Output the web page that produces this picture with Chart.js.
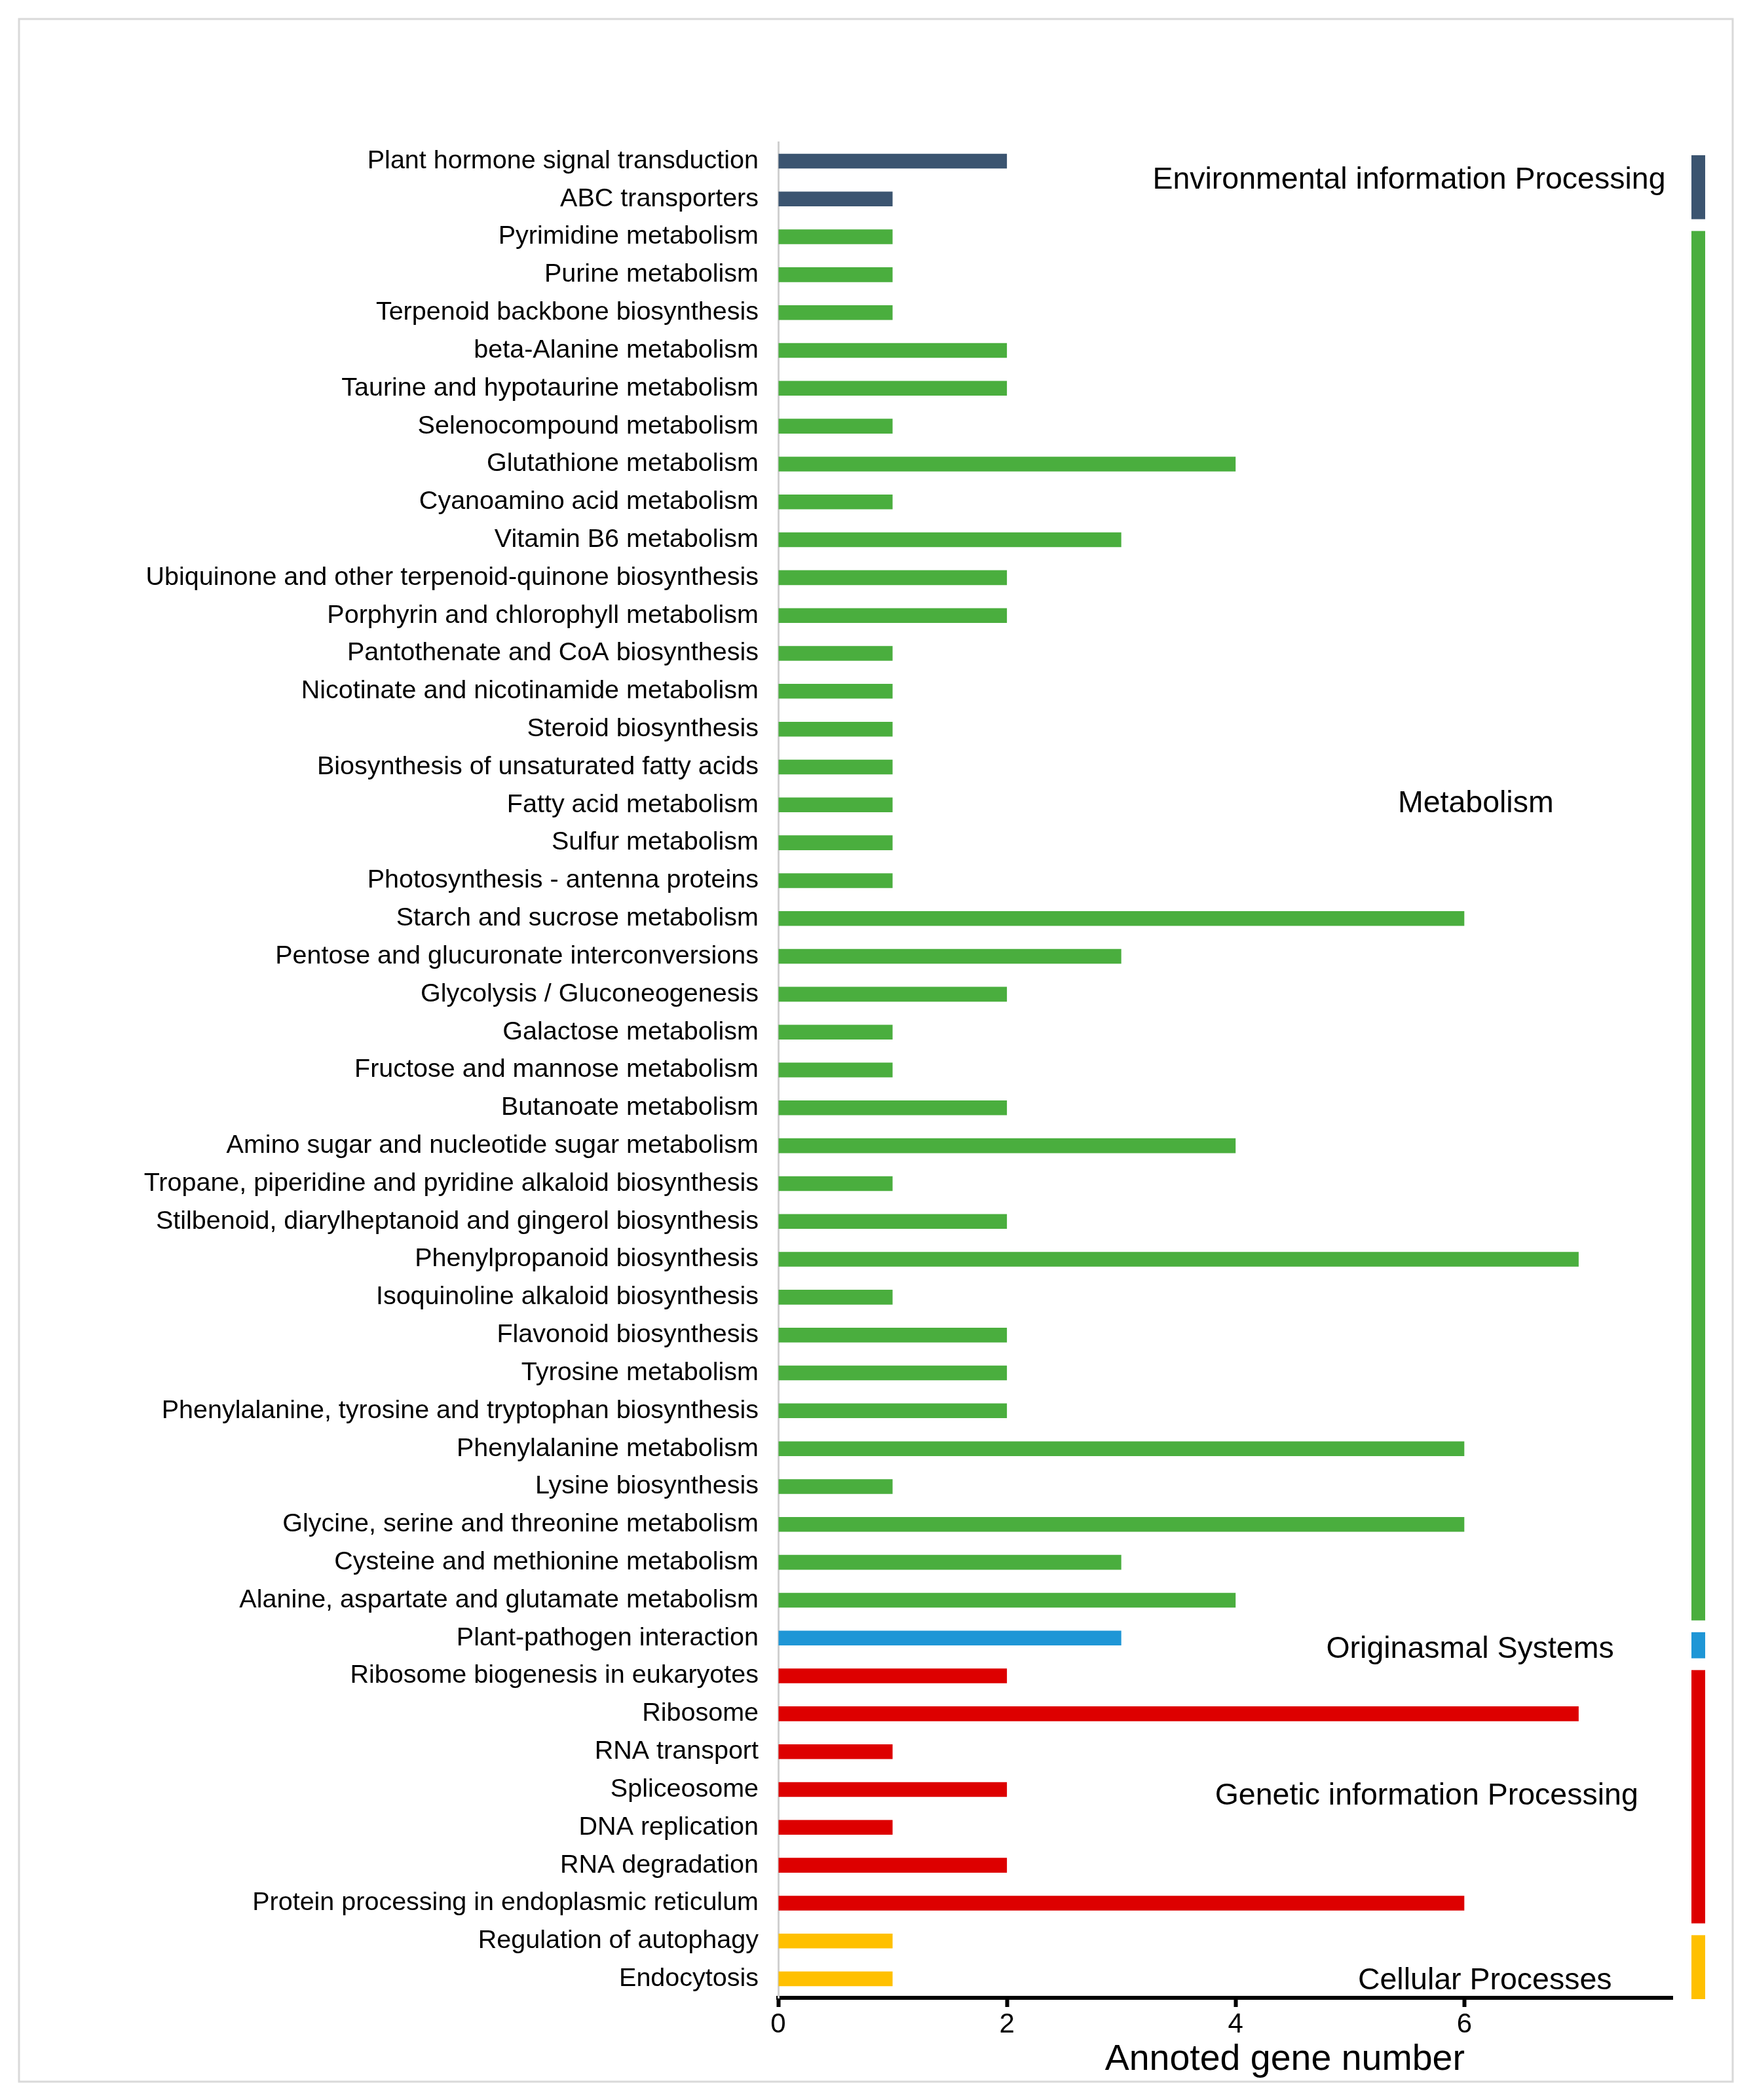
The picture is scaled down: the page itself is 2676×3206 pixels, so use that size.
<!DOCTYPE html>
<html>
<head>
<meta charset="utf-8">
<script src="https://cdn.jsdelivr.net/npm/chart.js@4.4.1/dist/chart.umd.min.js"></script>
<style>
  html, body { margin: 0; padding: 0; background: #fff; }
  #wrap { width: 2676px; height: 3206px; position: relative; }
</style>
</head>
<body>
<div id="wrap"><canvas id="chart-bar"></canvas></div>
<script>
// pathway names, top to bottom
var pathways = [
  'Plant hormone signal transduction', 'ABC transporters', 'Pyrimidine metabolism', 'Purine metabolism',
  'Terpenoid backbone biosynthesis', 'beta-Alanine metabolism', 'Taurine and hypotaurine metabolism',
  'Selenocompound metabolism', 'Glutathione metabolism', 'Cyanoamino acid metabolism', 'Vitamin B6 metabolism',
  'Ubiquinone and other terpenoid-quinone biosynthesis', 'Porphyrin and chlorophyll metabolism',
  'Pantothenate and CoA biosynthesis', 'Nicotinate and nicotinamide metabolism', 'Steroid biosynthesis',
  'Biosynthesis of unsaturated fatty acids', 'Fatty acid metabolism', 'Sulfur metabolism',
  'Photosynthesis - antenna proteins', 'Starch and sucrose metabolism', 'Pentose and glucuronate interconversions',
  'Glycolysis / Gluconeogenesis', 'Galactose metabolism', 'Fructose and mannose metabolism', 'Butanoate metabolism',
  'Amino sugar and nucleotide sugar metabolism', 'Tropane, piperidine and pyridine alkaloid biosynthesis',
  'Stilbenoid, diarylheptanoid and gingerol biosynthesis', 'Phenylpropanoid biosynthesis',
  'Isoquinoline alkaloid biosynthesis', 'Flavonoid biosynthesis', 'Tyrosine metabolism',
  'Phenylalanine, tyrosine and tryptophan biosynthesis', 'Phenylalanine metabolism', 'Lysine biosynthesis',
  'Glycine, serine and threonine metabolism', 'Cysteine and methionine metabolism',
  'Alanine, aspartate and glutamate metabolism', 'Plant-pathogen interaction', 'Ribosome biogenesis in eukaryotes',
  'Ribosome', 'RNA transport', 'Spliceosome', 'DNA replication', 'RNA degradation',
  'Protein processing in endoplasmic reticulum', 'Regulation of autophagy', 'Endocytosis'
];
var geneCounts = [
  2, 1, 1, 1, 1, 2, 2, 1, 4, 1, 3,
  2, 2, 1, 1, 1, 1, 1, 1, 1, 6, 3,
  2, 1, 1, 2, 4, 1, 2, 7, 1, 2, 2,
  2, 6, 1, 6, 3, 4, 3, 2, 7, 1, 2,
  1, 2, 6, 1, 1
];
var xTicks = [0, 2, 4, 6];

// KEGG classes: first and last pathway index of each
var groupNames = ['Environmental information Processing', 'Metabolism', 'Originasmal Systems',
                  'Genetic information Processing', 'Cellular Processes'];
var groupStart = [0, 2, 39, 40, 47];
var groupEnd   = [1, 38, 39, 46, 48];
var groupColors = ['#3b5470', '#4aae3e', '#1e96d6', '#dd0000', '#ffc000'];
// where each class name sits (x in gene number, y in pathway index)
var groupLabelX = [7.76, 6.1, 6.05, 5.67, 6.18];
var groupLabelY = [0.5, 16.98, 39.3, 43.18, 48.05];
var groupLabelAlign = ['right', 'center', 'center', 'center', 'center'];

var barColors = pathways.map(function(p, i) {
  for (var g = 0; g < groupStart.length; g++) {
    if (i >= groupStart[g] && i <= groupEnd[g]) return groupColors[g];
  }
  return '#888';
});

var FONT = '"Liberation Sans", Arial, sans-serif';

var sidePlugin = {
  id: 'side',
  beforeDraw: function(chart) {
    var ctx = chart.ctx;
    ctx.save();
    ctx.fillStyle = '#fff';
    ctx.fillRect(0, 0, chart.width, chart.height);
    ctx.strokeStyle = '#d9d9d9';
    ctx.lineWidth = 3;
    ctx.strokeRect(29, 29, 2616, 3149);
    ctx.restore();
  },
  afterDraw: function(chart) {
    var ctx = chart.ctx;
    var x = chart.scales.x, y = chart.scales.y;
    var band = y.height / pathways.length;
    var area = chart.chartArea;
    ctx.save();
    for (var g = 0; g < groupNames.length; g++) {
      var top = y.getPixelForValue(groupStart[g]) - band / 2 + 20;
      var bot = y.getPixelForValue(groupEnd[g]) + band / 2 + 2;
      ctx.fillStyle = groupColors[g];
      ctx.fillRect(area.right + 29, top, 21, bot - top);

      ctx.fillStyle = '#000';
      ctx.font = '46.5px ' + FONT;
      ctx.textAlign = groupLabelAlign[g];
      ctx.textBaseline = 'middle';
      ctx.fillText(groupNames[g], x.getPixelForValue(groupLabelX[g]), y.getPixelForValue(groupLabelY[g]));
    }
    // axis title
    ctx.font = '55.5px ' + FONT;
    ctx.textAlign = 'center';
    ctx.textBaseline = 'middle';
    ctx.fillText('Annoted gene number', x.getPixelForValue(4.43), area.bottom + 95);
    ctx.restore();
  }
};

const ctx = document.getElementById('chart-bar').getContext('2d');
const myChart = new Chart(ctx, {
  type: 'bar',
  data: {
    labels: pathways,
    datasets: [{
      label: 'Annoted gene number',
      data: geneCounts,
      backgroundColor: barColors,
      borderWidth: 0,
      barPercentage: 0.39,
      categoryPercentage: 1
    }]
  },
  options: {
    indexAxis: 'y',
    responsive: true,
    maintainAspectRatio: false,
    devicePixelRatio: 1,
    animation: false,
    layout: { padding: { top: 217, right: 123, left: 0, bottom: 0 } },
    plugins: { legend: { display: false }, tooltip: { enabled: false } },
    scales: {
      x: {
        type: 'linear',
        min: 0,
        max: 7.82,
        afterBuildTicks: function(scale) {
          scale.ticks = xTicks.map(function(v) { return { value: v }; });
        },
        afterFit: function(scale) { scale.height = 156; },
        grid: { drawOnChartArea: false, drawTicks: true, tickLength: 14, tickWidth: 6, tickColor: '#000' },
        border: { display: true, color: '#000', width: 6 },
        ticks: { color: '#000', font: { family: FONT, size: 42 }, padding: 2, maxRotation: 0 }
      },
      y: {
        afterFit: function(scale) { scale.width = 1188; },
        grid: { display: false },
        border: { display: true, color: '#d0d0d0', width: 3 },
        ticks: { color: '#000', font: { family: FONT, size: 39.5 }, padding: 22, autoSkip: false }
      }
    }
  },
  plugins: [sidePlugin]
});
</script>
</body>
</html>
